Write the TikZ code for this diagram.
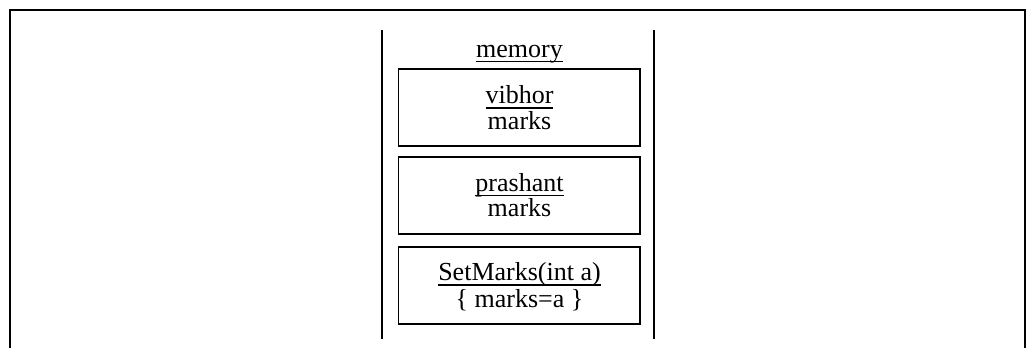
\documentclass[tikz,border=0pt]{standalone}
\usepackage{fontspec}
\setmainfont{Liberation Serif}
\newsavebox\ulbox
\newcommand\myul[1]{\sbox\ulbox{#1}\rlap{\rule[-3.8pt]{\wd\ulbox}{1.1pt}}\usebox\ulbox}
\begin{document}
\begin{tikzpicture}[x=0.75pt,y=-0.75pt,
  font=\fontsize{19.5}{23}\selectfont,
  frameline/.style={line width=1.5pt,line cap=rect},
  lifeline/.style={line width=1.3pt},
  membox/.style={draw,line width=1.4pt,inner sep=0pt,minimum width=181.1pt,minimum height=57.5pt},
  txt/.style={anchor=base,inner sep=0pt}]
\useasboundingbox (0,0) rectangle (1027,347);
% outer frame (open at bottom)
\draw[frameline] (10,350) -- (10,10) -- (1025,10) -- (1025,350);
% side lines of the memory area
\coordinate (l1) at (382,29.5);
\coordinate (l2) at (382,338.5);
\coordinate (r1) at (654,29.5);
\coordinate (r2) at (654,338.5);
\draw[lifeline] (l1) -- (l2);
\draw[lifeline] (r1) -- (r2);
% title
\node[txt] (mem) at (519.5,57) {\myul{memory}};
% boxes
\node[membox] (b1) at (519.25,107.75) {};
\node[membox] (b2) at (519.25,195.5) {};
\node[membox] (b3) at (519.25,285.25) {};
% box texts
\node[txt] (b1a) at (519.5,103.5) {\myul{vibhor}};
\node[txt] (b1b) at (519.5,129) {marks};
\node[txt] (b2a) at (519.5,191) {\myul{prashant}};
\node[txt] (b2b) at (519.5,216.5) {marks};
\node[txt] (b3a) at (519.5,280.5) {\myul{SetMarks(int a)}};
\node[txt] (b3b) at (519.5,307) {\{ marks=a \}};
\end{tikzpicture}
\end{document}
